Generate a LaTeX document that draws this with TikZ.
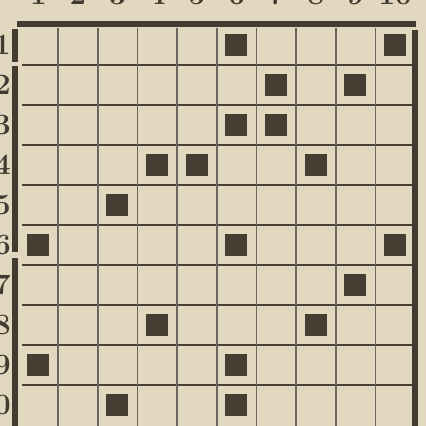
\documentclass[tikz,border=0pt]{standalone}
\usepackage{tikz}
\usetikzlibrary{positioning}

\definecolor{paper}{RGB}{226,215,191}
\definecolor{ink}{RGB}{74,64,54}

\begin{document}
\begin{tikzpicture}[x=0.025cm, y=-0.025cm,
    blot/.style={rectangle, fill=ink!95!black, minimum size=0.55cm, inner sep=0pt},
    hrule/.style={draw=ink, line width=2pt},
    vrule/.style={draw=ink!80, line width=1.2pt},
    bar/.style={draw=ink!90!black, line width=4.2pt},
    rowlab/.style={anchor=east, inner sep=0pt, text=ink!90!black, font=\fontsize{21}{21}\selectfont\bfseries},
    collab/.style={anchor=base, inner sep=0pt, text=ink!90!black, font=\fontsize{21}{21}\selectfont\bfseries}
]

% Page of the old newspaper, cut at the edges
\clip[use as bounding box] (0,0) rectangle (426,426);
\fill[paper] (0,0) rectangle (426,426);

% Column numbers, mostly cut off by the top edge
\foreach \c in {1,...,10}
    \node[collab] (c\c) at (18.5+39.65*\c-19.8, 5) {\c};

% Row numbers along the left edge
\foreach \r in {1,...,10}
    \node[rowlab] (r\r) at (11, 25+40*\r-20) {\r};

% Grid lines
\foreach \r in {1,...,9}
    \draw[hrule] (22, 25+40*\r) -- (412, 25+40*\r);
\foreach \c in {1,...,9}
    \draw[vrule] (18.5+39.65*\c, 28) -- (18.5+39.65*\c, 426);

% Frame
\draw[bar, line width=3.6pt] (17,24) -- (416,24);
\draw[bar] (15,29) -- (15,62);
\draw[bar] (15,66) -- (15,252);
\draw[bar] (15,258) -- (15,426);
\draw[bar, line width=3.8pt] (415,30) -- (415,426);

% Filled squares (row/column)
\foreach \r/\c in {1/6, 1/10, 2/7, 2/9, 3/6, 3/7, 4/4, 4/5, 4/8, 5/3,
                   6/1, 6/6, 6/10, 7/9, 8/4, 8/8, 9/1, 9/6, 10/3, 10/6}
    \node[blot] (s-\r-\c) at (18.5+39.65*\c-20, 25+40*\r-20) {};

\end{tikzpicture}
\end{document}
